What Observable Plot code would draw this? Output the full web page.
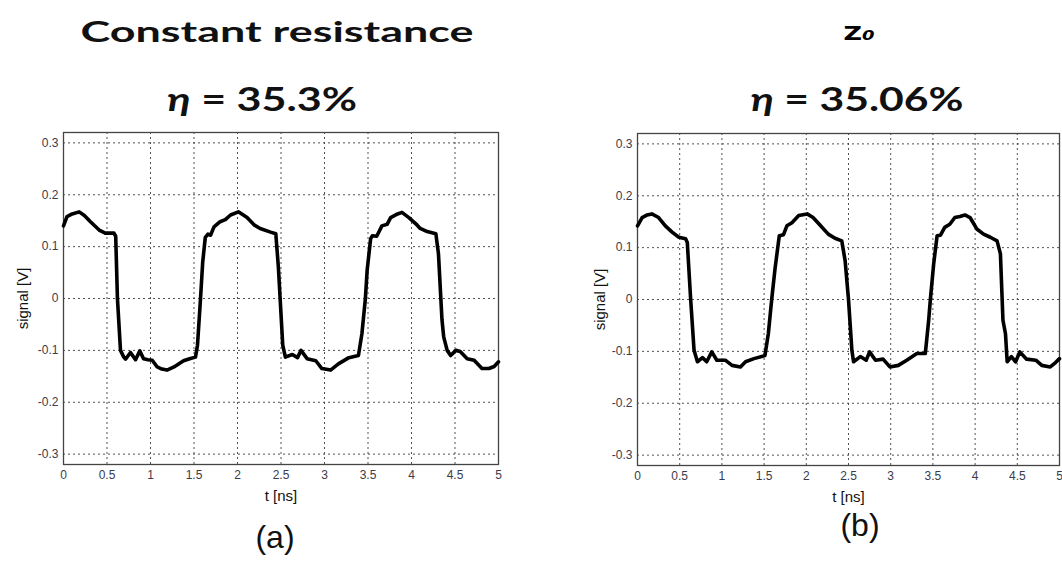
<!DOCTYPE html>
<html>
<head>
<meta charset="utf-8">
<script src="https://cdn.jsdelivr.net/npm/d3@7"></script>
<script src="https://cdn.jsdelivr.net/npm/@observablehq/plot@0.6"></script>
<style>
  html, body { margin: 0; padding: 0; background: #fff; }
  #root { position: relative; width: 1062px; height: 564px; overflow: hidden; background: #fff; }
  .panel { position: absolute; top: 120px; }
  .ttl { font-family: Lato, "Open Sans", sans-serif; font-weight: 700; color: #111; }
  .cap { font-family: "Liberation Sans", Arial, sans-serif; color: #111; }
  svg g[aria-label="x-axis label"] text, svg g[aria-label="y-axis label"] text { font-size: 15px; fill: #111; }
</style>
</head>
<body>
<div id="root"></div>
<script>
// ---- data ----
const xTicks = [0, 0.5, 1, 1.5, 2, 2.5, 3, 3.5, 4, 4.5, 5];
const yTicks = [-0.3, -0.2, -0.1, 0, 0.1, 0.2, 0.3];

const titlesA = ["Constant resistance", "η = 35.3%"];
const titlesB = ["Z0", "η = 35.06%"];
const panelLabels = ["(a)", "(b)"];
const axisLabels = ["t [ns]", "signal [V]"];

// (a) Constant resistance
const tA = [0, 0.04, 0.1, 0.18, 0.24, 0.31, 0.41, 0.48, 0.58, 0.6,
            0.62, 0.655, 0.69, 0.713, 0.77, 0.828, 0.877, 0.92, 0.97, 1.02,
            1.077, 1.13, 1.19, 1.27, 1.38, 1.45, 1.517, 1.54, 1.575, 1.6,
            1.63, 1.66, 1.69, 1.73, 1.8, 1.86, 1.92, 2.01, 2.11, 2.19,
            2.26, 2.38, 2.44, 2.47, 2.49, 2.52, 2.55, 2.63, 2.69, 2.73,
            2.8, 2.9, 2.97, 3.07, 3.16, 3.28, 3.39, 3.43, 3.47, 3.49,
            3.53, 3.55, 3.6, 3.66, 3.72, 3.76, 3.84, 3.89, 3.97, 4.05,
            4.1, 4.18, 4.28, 4.31, 4.35, 4.37, 4.41, 4.45, 4.51, 4.56,
            4.64, 4.72, 4.81, 4.89, 4.95, 5.0];
const vA = [0.14, 0.158, 0.163, 0.167, 0.16, 0.148, 0.132, 0.126, 0.126, 0.12,
            0.0, -0.1, -0.112, -0.117, -0.104, -0.118, -0.101, -0.116, -0.118, -0.119,
            -0.132, -0.136, -0.138, -0.132, -0.12, -0.116, -0.113, -0.09, 0.0, 0.07,
            0.118, 0.124, 0.122, 0.138, 0.148, 0.152, 0.161, 0.167, 0.156, 0.142,
            0.135, 0.128, 0.125, 0.06, 0.0, -0.09, -0.113, -0.108, -0.114, -0.1,
            -0.116, -0.12, -0.135, -0.138, -0.126, -0.114, -0.11, -0.068, 0.0, 0.054,
            0.115, 0.121, 0.12, 0.14, 0.143, 0.156, 0.163, 0.166, 0.156, 0.144,
            0.135, 0.129, 0.125, 0.086, -0.04, -0.074, -0.1, -0.11, -0.1, -0.102,
            -0.116, -0.119, -0.135, -0.135, -0.131, -0.122];

// (b) Z0
const tB = [0, 0.055, 0.115, 0.17, 0.25, 0.33, 0.41, 0.49, 0.57, 0.59,
            0.63, 0.67, 0.71, 0.77, 0.82, 0.88, 0.94, 1.04, 1.12, 1.22,
            1.28, 1.38, 1.51, 1.55, 1.59, 1.63, 1.68, 1.73, 1.77, 1.83,
            1.91, 2.01, 2.08, 2.17, 2.26, 2.34, 2.42, 2.46, 2.5, 2.54,
            2.56, 2.64, 2.71, 2.75, 2.82, 2.91, 2.99, 3.09, 3.19, 3.31,
            3.41, 3.45, 3.47, 3.51, 3.55, 3.59, 3.64, 3.7, 3.76, 3.82,
            3.88, 3.94, 4.02, 4.1, 4.18, 4.26, 4.3, 4.33, 4.36, 4.38,
            4.43, 4.48, 4.53, 4.61, 4.72, 4.79, 4.89, 4.95, 5.0];
const vB = [0.142, 0.158, 0.163, 0.165, 0.158, 0.142, 0.13, 0.12, 0.117, 0.11,
            0.0, -0.098, -0.12, -0.112, -0.12, -0.101, -0.117, -0.117, -0.127, -0.13,
            -0.12, -0.114, -0.108, -0.066, 0.0, 0.06, 0.123, 0.125, 0.142, 0.148,
            0.162, 0.165, 0.158, 0.142, 0.126, 0.118, 0.113, 0.075, 0.0, -0.098,
            -0.12, -0.11, -0.117, -0.101, -0.117, -0.115, -0.13, -0.127, -0.117, -0.104,
            -0.104, -0.04, 0.0, 0.07, 0.123, 0.124, 0.139, 0.145, 0.158, 0.16,
            0.163, 0.158, 0.136, 0.126, 0.12, 0.113, 0.088, -0.04, -0.066, -0.12,
            -0.11, -0.12, -0.101, -0.115, -0.117, -0.127, -0.13, -0.122, -0.114];

const root = document.getElementById("root");

function panel(t, v, o) {
  const data = t.map((d, i) => ({t: d, v: v[i]}));
  const grid = {stroke: "#333", strokeOpacity: 0.85, strokeDasharray: "2,3", strokeWidth: 1};
  return Plot.plot({
    width: o.width, height: 400,
    marginLeft: o.ml, marginRight: o.mr, marginTop: o.mt, marginBottom: o.mb,
    style: {fontFamily: "'Liberation Sans', Arial, sans-serif", fontSize: "12px", color: "#3b3b4b", background: "white", overflow: "visible"},
    x: {domain: [0, 5], ticks: xTicks, tickFormat: d => String(d), tickSize: 0, tickPadding: 6,
        label: axisLabels[0], labelAnchor: "center", labelOffset: 36, labelArrow: "none"},
    y: {domain: [-0.32, 0.32], ticks: yTicks, tickFormat: d => String(d), tickSize: 0, tickPadding: 5,
        label: axisLabels[1], labelAnchor: "center", labelOffset: o.ylo, labelArrow: "none"},
    marks: [
      Plot.gridX(xTicks, grid),
      Plot.gridY(yTicks, grid),
      Plot.frame({stroke: "#444", strokeWidth: 1.3}),
      Plot.line(data, {x: "t", y: "v", stroke: "#000", strokeWidth: 3.6, strokeLinejoin: "round", strokeLinecap: "round"})
    ]
  });
}

function addPanel(el, left, width) {
  const d = document.createElement("div");
  d.className = "panel";
  d.style.left = left + "px";
  d.style.width = width + "px";
  d.appendChild(el);
  root.appendChild(d);
}

addPanel(panel(tA, vA, {width: 530, ml: 63, mr: 32, mt: 12, mb: 56, ylo: 46}), 0, 530);
addPanel(panel(tB, vB, {width: 531, ml: 106, mr: 3, mt: 13, mb: 55, ylo: 43}), 531, 531);

function text(html, cls, cx, top, size, targetW, extra) {
  const el = document.createElement("div");
  el.className = cls;
  el.innerHTML = html;
  el.style.cssText = `position:absolute;left:${cx}px;top:${top}px;font-size:${size}px;line-height:1;white-space:nowrap;transform-origin:0 0;` + (extra || "");
  root.appendChild(el);
  const w = el.getBoundingClientRect().width;
  const s = targetW ? targetW / w : 1;
  el.style.transform = `translateX(${-w * s / 2}px) scaleX(${s})`;
}

const eta = s => s.replace("η", "<i>η</i>");
text(titlesA[0], "ttl", 277, 17, 28, 393);
text(eta(titlesA[1]), "ttl", 262, 82, 33, 190);
text("Z<i style='font-size:0.7em'>" + titlesB[0].slice(1) + "</i>", "ttl", 859, 24, 19, 31, "color:#000;font-family:'DejaVu Sans',sans-serif;");
text(eta(titlesB[1]), "ttl", 857, 82, 33, 213);
text(panelLabels[0], "cap", 275, 521, 32, 0);
text(panelLabels[1], "cap", 860, 509, 32, 0);
</script>
</body>
</html>
